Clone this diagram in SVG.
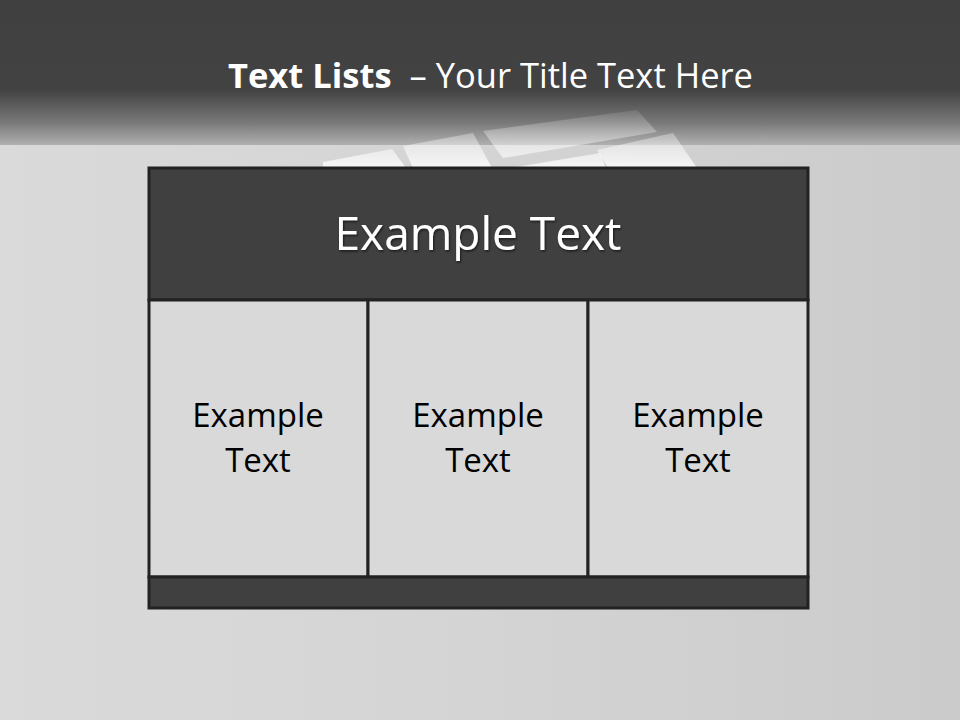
<svg xmlns="http://www.w3.org/2000/svg" width="960" height="720" viewBox="0 0 960 720">
  <defs>
    <linearGradient id="bg" x1="0" y1="0" x2="1" y2="0">
      <stop offset="0" stop-color="#dadada"/>
      <stop offset="0.5" stop-color="#d4d4d4"/>
      <stop offset="1" stop-color="#cbcbcb"/>
    </linearGradient>
    <linearGradient id="top" x1="0" y1="0" x2="0" y2="1">
      <stop offset="0" stop-color="#404040"/>
      <stop offset="0.62" stop-color="#424242"/>
      <stop offset="0.85" stop-color="#7a7a7a"/>
      <stop offset="1" stop-color="#b0b0b0"/>
    </linearGradient>
    <linearGradient id="tile" gradientUnits="userSpaceOnUse" x1="0" y1="105" x2="0" y2="168">
      <stop offset="0" stop-color="#ffffff" stop-opacity="0.05"/>
      <stop offset="0.6" stop-color="#ffffff" stop-opacity="0.4"/>
      <stop offset="1" stop-color="#ffffff" stop-opacity="0.8"/>
    </linearGradient>
    <filter id="sh" x="-10%" y="-20%" width="120%" height="140%">
      <feDropShadow dx="1" dy="1.5" stdDeviation="1" flood-color="#000" flood-opacity="0.6"/>
    </filter>
    <style>
      .cell { fill: #d9d9d9; stroke: #222222; stroke-width: 3; }
      .dark { fill: #404040; stroke: #222222; stroke-width: 3; }
      .ct { font-family: "Open Sans", "Noto Sans", sans-serif; font-size: 33px; fill: #000000; text-anchor: middle; }
      .ht { font-family: "Open Sans", "Noto Sans", sans-serif; font-size: 46px; fill: #ffffff; text-anchor: middle; }
      .tt { font-family: "Open Sans", "Noto Sans", sans-serif; font-size: 34.5px; fill: #ffffff; }
    </style>
  </defs>

  <!-- background -->
  <rect x="0" y="0" width="960" height="720" fill="url(#bg)"/>
  <rect x="0" y="0" width="960" height="145" fill="url(#top)"/>
  <!-- faint tiles photo -->
  <g id="tiles">
    <polygon points="323,162 392,149 406,168 323,168" fill="url(#tile)"/>
    <polygon points="403,146 473,133 492,168 413,168" fill="url(#tile)"/>
    <polygon points="483,131 637,110 657,132 503,158" fill="url(#tile)"/>
    <polygon points="510,168 600,153 606,168" fill="url(#tile)"/>
    <polygon points="597,150 673,133 697,168 608,168" fill="url(#tile)"/>
  </g>

  <!-- title -->
  <g id="title">
    <text x="228" y="88" class="tt"><tspan font-weight="bold">Text Lists</tspan><tspan xml:space="preserve">  – Your Title Text Here</tspan></text>
  </g>

  <!-- table -->
  <g id="header">
    <rect x="149" y="168" width="659" height="132" class="dark"/>
    <text x="478" y="250" class="ht" filter="url(#sh)">Example Text</text>
  </g>
  <g id="cell1">
    <rect x="149" y="300" width="219" height="277" class="cell"/>
    <text x="258" y="427" class="ct">Example</text>
    <text x="258" y="472" class="ct">Text</text>
  </g>
  <g id="cell2">
    <rect x="368" y="300" width="220" height="277" class="cell"/>
    <text x="478" y="427" class="ct">Example</text>
    <text x="478" y="472" class="ct">Text</text>
  </g>
  <g id="cell3">
    <rect x="588" y="300" width="220" height="277" class="cell"/>
    <text x="698" y="427" class="ct">Example</text>
    <text x="698" y="472" class="ct">Text</text>
  </g>
  <g id="footer">
    <rect x="149" y="577" width="659" height="31" class="dark"/>
  </g>
  <g id="connectors"/>
</svg>
